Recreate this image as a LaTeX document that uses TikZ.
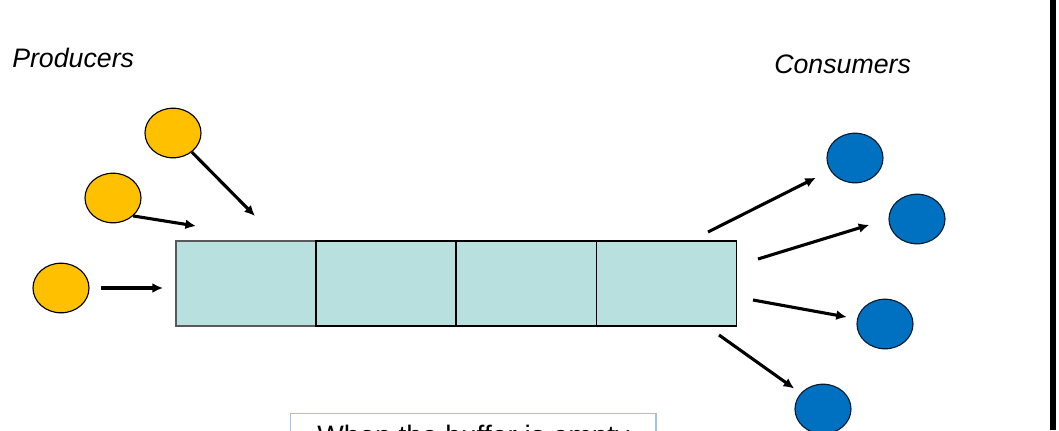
\documentclass[tikz,border=0pt]{standalone}
\usepackage{fontspec}
\setmainfont{Liberation Sans}
\usetikzlibrary{arrows.meta,shapes,positioning}

\definecolor{prodyellow}{HTML}{FFC000}
\definecolor{consblue}{HTML}{0070C0}
\definecolor{bufcell}{HTML}{B7E0DE}
\definecolor{noteline}{HTML}{9DC3E6}

\begin{document}
\begin{tikzpicture}[x=0.025cm, y=-0.025cm, >={Latex[length=7.5pt,width=7pt]}]
        \tikzstyle{cell} = [draw, fill=bufcell, rectangle, line width=0.8pt, outer sep=0pt, minimum width=3.5cm, minimum height=2.125cm]
        \tikzstyle{producer} = [draw, fill=prodyellow, ellipse, line width=0.8pt, inner sep=0pt, minimum width=1.4cm, minimum height=1.24cm]
        \tikzstyle{consumer} = [producer, fill=consblue, draw=black!75!consblue]
        \tikzstyle{title} = [font=\fontsize{19}{22}\selectfont\itshape, anchor=base west, inner sep=0pt]
        \tikzstyle{flow} = [->, line width=2.2pt]

        \useasboundingbox [fill=white] (0,0) rectangle (1059,430);

        \node [title] (prod) at (12,67) {Producers};
        \node [title] (cons) at (774,73) {Consumers};

        % the buffer
        \node [cell, draw=black!65] (b1) at (246,283.5) {};
        \node [cell, right=0pt of b1] (b2) {};
        \node [cell, right=0pt of b2] (b3) {};
        \node [cell, right=0pt of b3] (b4) {};

        \node [producer] (p1) at (173,133) {};
        \node [producer] (p2) at (113,198) {};
        \node [producer] (p3) at (61,288) {};

        \node [consumer] (c1) at (855,158) {};
        \node [consumer] (c2) at (917,219) {};
        \node [consumer] (c3) at (885,324) {};
        \node [consumer] (c4) at (823,409) {};

        \coordinate (in1) at (255,216);
        \coordinate (in2) at (196,226);
        \coordinate (in3) at (163,288);
        \coordinate (out1) at (708,232);
        \coordinate (out2) at (758,259);
        \coordinate (out3) at (753,300);
        \coordinate (out4) at (719,335);

        \draw [flow] (p1) -- (in1);
        \draw [flow] (p2.south east) -- (in2);
        \draw [flow, shorten <=0.28cm] (p3) -- (in3);

        \draw [flow, shorten >=0.4cm] (out1) -- (c1);
        \draw [flow, shorten >=0.5cm] (out2) -- (c2.west);
        \draw [flow, shorten >=0.26cm] (out3) -- (c3);
        \draw [flow, shorten >=0.2cm] (out4) -- (c4);

        % note below the buffer, cut by the page edge
        \node [draw=noteline, line width=1pt, anchor=north west, minimum width=9.125cm, minimum height=3cm] (note) at (290,413) {};
        \node [anchor=base west, inner sep=0pt, font=\fontsize{20}{24}\selectfont] (notetext) at (317,445) {When the buffer is empty};

        \draw [line width=4.2pt] (1053,0) -- (1053,430);
\end{tikzpicture}
\end{document}
